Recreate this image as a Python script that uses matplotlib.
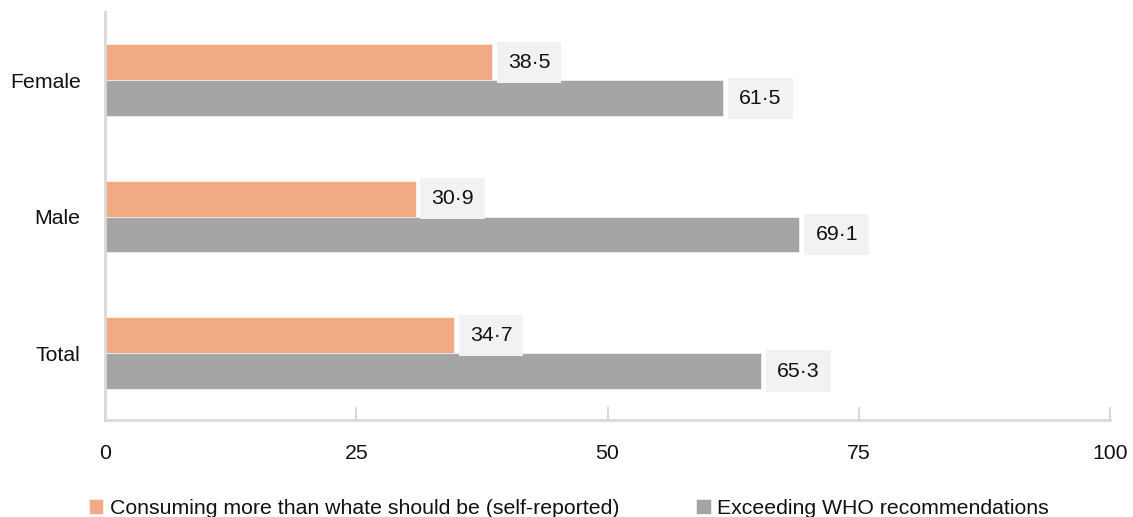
import matplotlib
matplotlib.use("Agg")
import matplotlib.pyplot as plt
import numpy as np

plt.rcParams['font.family'] = ['Liberation Sans', 'DejaVu Sans']

categories = ["Total", "Male", "Female"]
self_reported = [34.7, 30.9, 38.5]
who_exceeding = [65.3, 69.1, 61.5]
series_names = ["Consuming more than whate should be (self-reported)",
                "Exceeding WHO recommendations"]
xticks = [0, 25, 50, 75, 100]

c_orange = "#F2AA84"
c_gray = "#A5A5A5"
fs = 15.3

fig = plt.figure(figsize=(11.33, 5.17), dpi=100)
ax = fig.add_axes([105/1133, 1-420/517, (1110-105)/1133, (420-12)/517])

y = np.arange(len(categories))
h = 0.262
b1 = ax.barh(y + h/2, self_reported, height=h, color=c_orange, edgecolor='white', linewidth=0.4, label=series_names[0])
b2 = ax.barh(y - h/2, who_exceeding, height=h, color=c_gray, edgecolor='white', linewidth=0.4, label=series_names[1])

for bars in (b1, b2):
    for r in bars:
        v = r.get_width()
        ax.annotate(f"{v:.1f}".replace('.', '·'), xy=(v, r.get_y() + r.get_height()/2),
                    xytext=(11.5, 0), textcoords='offset points', ha='left', va='center',
                    fontsize=fs, color='#111111',
                    bbox=dict(boxstyle='square,pad=0.52', fc='#F2F2F2', ec='none'))

ax.set_xlim(0, 100)
ax.set_ylim(-0.49, 2.5)
ax.set_xticks(xticks)
ax.set_xticklabels([str(t) for t in xticks], fontsize=fs, color='#111111')
ax.set_yticks(y)
ax.set_yticklabels(categories, fontsize=fs, color='#111111')
ax.tick_params(axis='y', length=0, pad=17.5)
ax.tick_params(axis='x', direction='in', length=9.5, width=1.5, color='#D9D9D9', pad=17)
for s in ['top', 'right']:
    ax.spines[s].set_visible(False)
for s in ['left', 'bottom']:
    ax.spines[s].set_color('#D9D9D9')
    ax.spines[s].set_linewidth(2)

leg = fig.legend(handles=[b1, b2], labels=series_names, loc='center left',
                 bbox_to_anchor=(80/1133, 1-508/517), ncol=2, frameon=False,
                 fontsize=fs, handlelength=0.7, handleheight=0.7, handletextpad=0.3,
                 columnspacing=3.6, borderaxespad=0)
for t in leg.get_texts():
    t.set_color('#111111')

fig.savefig("out.png", dpi=100)
